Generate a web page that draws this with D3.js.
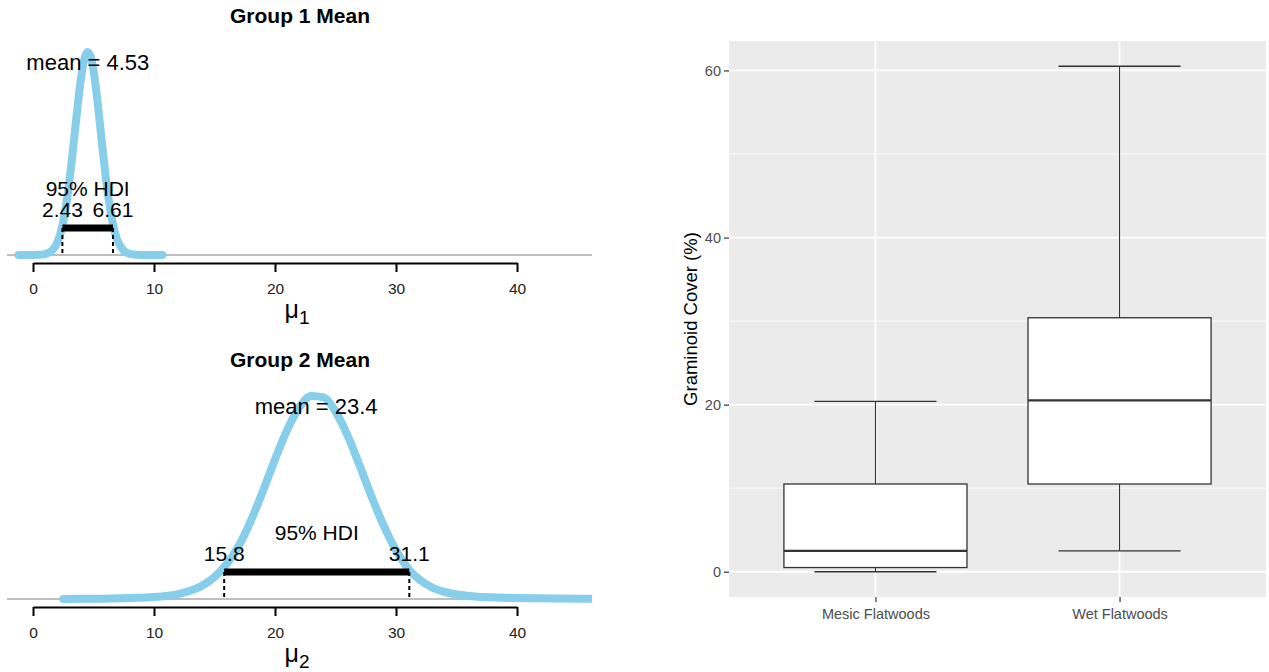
<!DOCTYPE html>
<html>
<head>
<meta charset="utf-8">
<script src="https://cdn.jsdelivr.net/npm/d3@7"></script>
<style>
  body { margin: 0; background: #fff; }
  text { font-family: "Liberation Sans", Arial, sans-serif; }
</style>
</head>
<body>
<script>
// posterior of mu1
var mu1X    = [-1.2, 0, 0.5, 1, 1.5, 1.75, 2, 2.25, 2.5, 2.75, 3, 3.25, 3.5, 3.75, 4, 4.25, 4.5, 4.75, 5, 5.25, 5.5, 5.75, 6, 6.25, 6.5, 6.75, 7, 7.5, 8, 8.5, 9, 10.7];
var mu1Dens = [0, 0.0001, 0.0003, 0.0016, 0.0068, 0.0128, 0.0228, 0.0385, 0.0616, 0.0935, 0.1342, 0.1824, 0.2347, 0.286, 0.330, 0.3604, 0.3729, 0.3652, 0.3387, 0.2974, 0.2473, 0.1947, 0.1451, 0.1025, 0.0685, 0.0433, 0.026, 0.0079, 0.0019, 0.0004, 0.0001, 0];

// posterior of mu2
var mu2X    = [2.5, 5, 8, 10, 11, 12, 13, 14, 15, 16, 17, 18, 19, 20, 21, 22, 23, 24, 25, 26, 27, 28, 29, 30, 31, 32, 33, 34, 35, 36, 38, 40, 43, 46, 50];
var mu2Dens = [0.00005, 0.0001, 0.0005, 0.001, 0.0015, 0.0024, 0.004, 0.0066, 0.0108, 0.017, 0.026, 0.0383, 0.0529, 0.0684, 0.0828, 0.0938, 0.0995, 0.0988, 0.0919, 0.0801, 0.0653, 0.0499, 0.0357, 0.0239, 0.015, 0.0092, 0.0056, 0.0035, 0.0022, 0.0015, 0.0008, 0.00045, 0.0002, 0.0001, 0.00005];

var groupTitles = ["Group 1 Mean", "Group 2 Mean"];
var groupMeans  = [4.53, 23.4];
var hdiLow      = [2.43, 15.8];
var hdiHigh     = [6.61, 31.1];
var muSubs      = ["1", "2"];
var muTicks     = [0, 10, 20, 30, 40];

// boxplot summary
var habitats    = ["Mesic Flatwoods", "Wet Flatwoods"];
var whiskerLow  = [0, 2.5];
var boxQ1       = [0.5, 10.5];
var boxMedian   = [2.5, 20.5];
var boxQ3       = [10.5, 30.4];
var whiskerHigh = [20.4, 60.5];
var coverTicks  = [0, 20, 40, 60];
var coverMinor  = [10, 30, 50];

var width = 1269;
var height = 672;
var fmt = d3.format(".3g");

var svg = d3.select("body").append("svg")
    .attr("width", width)
    .attr("height", height);

svg.append("defs").append("clipPath")
    .attr("id", "plotClip")
    .append("rect")
    .attr("x", 7).attr("y", 0)
    .attr("width", 585).attr("height", 300);

function dibujarPosterior(idx, xs, dens, offsetY){

    var g = svg.append("g").attr("transform", "translate(0," + offsetY + ")");

    var x = d3.scaleLinear().domain([0, 40]).range([33, 517]);
    var maxDens = d3.max(dens);
    var y = d3.scaleLinear().domain([0, maxDens]).range([255, 52]);

    g.append("text")
        .attr("x", 300)
        .attr("y", 23)
        .attr("text-anchor", "middle")
        .style("font-size", "21px")
        .style("font-weight", "bold")
        .text(groupTitles[idx]);

    // zero line
    g.append("line")
        .attr("x1", 7).attr("x2", 592)
        .attr("y1", y(0)).attr("y2", y(0))
        .attr("stroke", "#bebebe")
        .attr("stroke-width", 2);

    var line = d3.line()
        .x(function(d){ return x(d[0]); })
        .y(function(d){ return y(d[1]); })
        .curve(d3.curveMonotoneX);

    g.append("path")
        .datum(d3.zip(xs, dens))
        .attr("clip-path", "url(#plotClip)")
        .attr("d", line)
        .attr("fill", "none")
        .attr("stroke", "#87ceeb")
        .attr("stroke-width", 8)
        .attr("stroke-linecap", "round")
        .attr("stroke-linejoin", "round");

    var hdiY = y(0) - 27;

    // dashed drops from the HDI ends
    [hdiLow[idx], hdiHigh[idx]].forEach(function(v){
        g.append("line")
            .attr("x1", x(v)).attr("x2", x(v))
            .attr("y1", hdiY).attr("y2", y(0))
            .attr("stroke", "#000")
            .attr("stroke-width", 2)
            .attr("stroke-dasharray", "4,3");
    });

    g.append("line")
        .attr("x1", x(hdiLow[idx])).attr("x2", x(hdiHigh[idx]))
        .attr("y1", hdiY).attr("y2", hdiY)
        .attr("stroke", "#000")
        .attr("stroke-width", 7);

    g.append("text")
        .attr("x", x((hdiLow[idx] + hdiHigh[idx]) / 2))
        .attr("y", hdiY - 32)
        .attr("text-anchor", "middle")
        .style("font-size", "21px")
        .text("95% HDI");

    [hdiLow[idx], hdiHigh[idx]].forEach(function(v){
        g.append("text")
            .attr("x", x(v))
            .attr("y", hdiY - 11)
            .attr("text-anchor", "middle")
            .style("font-size", "21px")
            .text(fmt(v));
    });

    g.append("text")
        .attr("x", x(groupMeans[idx]))
        .attr("y", y(maxDens * 0.91))
        .attr("text-anchor", "middle")
        .style("font-size", "22px")
        .text("mean = " + fmt(groupMeans[idx]));

    var axis = d3.axisBottom(x)
        .tickValues(muTicks)
        .tickSize(9)
        .tickSizeOuter(0)
        .tickPadding(11);

    var gAxis = g.append("g")
        .attr("transform", "translate(0,263)")
        .call(axis);
    gAxis.select(".domain").attr("stroke-width", 2);
    gAxis.selectAll(".tick line").attr("stroke-width", 2);
    gAxis.selectAll(".tick text")
        .style("font-size", "15.5px")
        .attr("fill", "#222");

    var lab = g.append("text")
        .attr("x", 297)
        .attr("y", 318)
        .attr("text-anchor", "middle")
        .style("font-size", "25px");
    lab.append("tspan").text("\u03bc");
    lab.append("tspan")
        .attr("dy", 6)
        .style("font-size", "19px")
        .text(muSubs[idx]);
}

dibujarPosterior(0, mu1X, mu1Dens, 0);
dibujarPosterior(1, mu2X, mu2Dens, 344);

// ---- boxplot on the right ----
var panel = {left: 729, right: 1266, top: 41, bottom: 597};

var yMin = d3.min(whiskerLow), yMax = d3.max(whiskerHigh);
var pad = (yMax - yMin) * 0.05;
var yBox = d3.scaleLinear().domain([yMin - pad, yMax + pad]).range([panel.bottom, panel.top]);
var xBox = d3.scalePoint().domain(habitats).range([panel.left, panel.right]).padding(0.6);
var step = xBox.step();

var gBox = svg.append("g");

gBox.append("rect")
    .attr("x", panel.left).attr("y", panel.top)
    .attr("width", panel.right - panel.left)
    .attr("height", panel.bottom - panel.top)
    .attr("fill", "#ebebeb");

gBox.selectAll(".minor").data(coverMinor).enter().append("line")
    .attr("x1", panel.left).attr("x2", panel.right)
    .attr("y1", function(d){ return yBox(d); })
    .attr("y2", function(d){ return yBox(d); })
    .attr("stroke", "#fff").attr("stroke-width", 0.9);

gBox.selectAll(".majorY").data(coverTicks).enter().append("line")
    .attr("x1", panel.left).attr("x2", panel.right)
    .attr("y1", function(d){ return yBox(d); })
    .attr("y2", function(d){ return yBox(d); })
    .attr("stroke", "#fff").attr("stroke-width", 1.8);

gBox.selectAll(".majorX").data(habitats).enter().append("line")
    .attr("x1", function(d){ return xBox(d); })
    .attr("x2", function(d){ return xBox(d); })
    .attr("y1", panel.top).attr("y2", panel.bottom)
    .attr("stroke", "#fff").attr("stroke-width", 1.8);

habitats.forEach(function(h, i){
    var cx = xBox(h);
    var capW = step * 0.5;
    var boxW = step * 0.75;

    // errorbar
    gBox.append("line")
        .attr("x1", cx).attr("x2", cx)
        .attr("y1", yBox(whiskerLow[i])).attr("y2", yBox(whiskerHigh[i]))
        .attr("stroke", "#333").attr("stroke-width", 1.1);
    [whiskerLow[i], whiskerHigh[i]].forEach(function(v){
        gBox.append("line")
            .attr("x1", cx - capW / 2).attr("x2", cx + capW / 2)
            .attr("y1", yBox(v)).attr("y2", yBox(v))
            .attr("stroke", "#333").attr("stroke-width", 1.3);
    });

    gBox.append("rect")
        .attr("x", cx - boxW / 2)
        .attr("y", yBox(boxQ3[i]))
        .attr("width", boxW)
        .attr("height", yBox(boxQ1[i]) - yBox(boxQ3[i]))
        .attr("fill", "#fff")
        .attr("stroke", "#333")
        .attr("stroke-width", 1.3);

    gBox.append("line")
        .attr("x1", cx - boxW / 2).attr("x2", cx + boxW / 2)
        .attr("y1", yBox(boxMedian[i])).attr("y2", yBox(boxMedian[i]))
        .attr("stroke", "#333").attr("stroke-width", 2.2);
});

var yAxisBox = d3.axisLeft(yBox).tickValues(coverTicks).tickSize(5).tickPadding(3);
var gy = svg.append("g")
    .attr("transform", "translate(" + panel.left + ",0)")
    .call(yAxisBox);
gy.select(".domain").remove();
gy.selectAll(".tick line").attr("stroke", "#333").attr("stroke-width", 1.2);
gy.selectAll(".tick text").style("font-size", "14.5px").attr("fill", "#4d4d4d");

var xAxisBox = d3.axisBottom(xBox).tickSize(5).tickPadding(7);
var gx = svg.append("g")
    .attr("transform", "translate(0," + panel.bottom + ")")
    .call(xAxisBox);
gx.select(".domain").remove();
gx.selectAll(".tick line").attr("stroke", "#333").attr("stroke-width", 1.2);
gx.selectAll(".tick text").style("font-size", "14.5px").attr("fill", "#4d4d4d");

svg.append("text")
    .attr("transform", "translate(697," + ((panel.top + panel.bottom) / 2) + ") rotate(-90)")
    .attr("text-anchor", "middle")
    .style("font-size", "18.5px")
    .attr("fill", "#000")
    .text("Graminoid Cover (%)");
</script>
</body>
</html>
